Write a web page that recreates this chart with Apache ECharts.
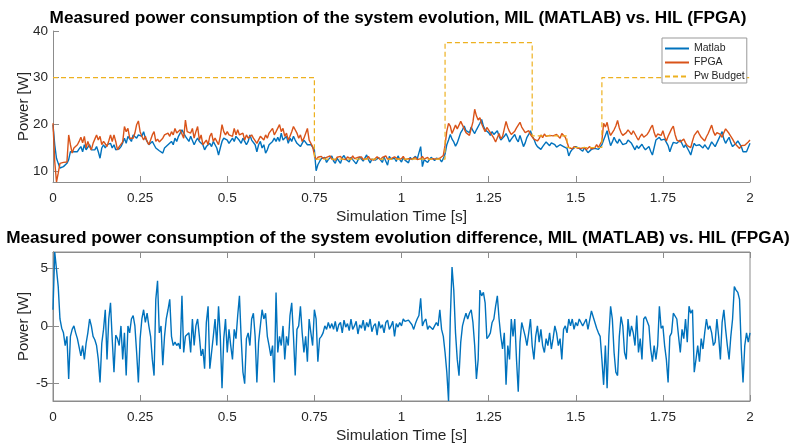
<!DOCTYPE html>
<html>
<head>
<meta charset="utf-8">
<title>Measured power consumption</title>
<script src="https://cdn.jsdelivr.net/npm/echarts@6.0.0/dist/echarts.min.js"></script>
<style>
  html, body { margin: 0; padding: 0; background: #fff; }
  #chart { width: 796px; height: 445px; }
</style>
</head>
<body>
<div id="chart"></div>
<script>
// all traces are sampled every 0.005 s from 0 to 2 s
const timeStep = 0.005

// Matlab (MIL) power
const matlabPower = [
  19.9, 15.6, 12.7, 11.6, 10.6, 10.2, 10.9, 11.3, 11.6, 12.4,
  14.1, 13.8, 14.1, 14.5, 14.1, 14.7, 15.2, 14.1, 15.6, 14.5,
  14.9, 15.6, 14.5, 14.9, 14.5, 15.2, 14.1, 12.7, 14.9, 15.6,
  14.9, 15.6, 15.2, 15.9, 14.9, 15.6, 14.5, 14.1, 14.7, 15.2,
  16.0, 17.0, 15.9, 17.4, 17.0, 16.3, 17.7, 17.4, 17.0, 17.7,
  18.1, 17.4, 18.4, 17.0, 16.3, 15.6, 15.2, 16.3, 15.6, 14.9,
  15.1, 14.3, 14.5, 13.8, 14.9, 15.2, 15.6, 15.9, 16.3, 15.6,
  17.0, 16.3, 17.4, 17.7, 18.8, 18.1, 17.4, 17.0, 16.3, 17.4,
  17.0, 15.6, 16.4, 17.0, 16.3, 15.9, 15.6, 14.5, 15.2, 15.6,
  15.9, 15.2, 16.3, 15.6, 14.9, 13.4, 14.9, 16.3, 17.0, 17.4,
  16.6, 15.9, 16.3, 17.0, 16.3, 17.4, 17.7, 16.5, 15.9, 17.0,
  16.3, 15.6, 16.3, 17.7, 16.6, 16.3, 15.6, 14.1, 15.6, 16.3,
  14.9, 15.6, 13.8, 14.5, 15.6, 15.2, 16.3, 17.0, 16.3, 17.2,
  16.3, 18.1, 16.6, 16.3, 17.4, 15.9, 17.0, 16.3, 17.4, 16.6,
  15.9, 16.3, 15.2, 15.9, 16.6, 16.3, 15.6, 15.2, 15.6, 15.9,
  14.5,
  10.0, 11.3, 12.0, 12.6, 12.2, 12.9, 11.8, 12.4, 12.6, 13.2,
  12.1, 11.6, 12.7, 12.3, 11.6, 12.8, 13.3, 12.5, 12.2, 11.9,
  12.9, 12.4, 12.6, 11.5, 12.3, 13.0, 12.6, 12.1, 12.2, 13.4,
  12.4, 11.7, 12.5, 12.9, 12.3, 12.1, 12.8, 12.4, 11.8, 12.9,
  12.6, 11.2, 13.1, 12.5, 12.3, 12.7, 12.0, 13.2, 12.4, 11.9,
  12.8, 12.3, 12.6, 11.7, 12.9, 12.4, 12.2, 13.1, 12.5, 12.3,
  15.2, 10.9, 12.4, 12.6, 11.8, 12.4, 12.9, 12.6, 12.2, 12.7,
  12.3, 12.5, 11.9, 12.6,
  13.6, 15.6, 16.6, 17.8, 16.8, 16.2, 15.3, 16.0, 17.1, 18.2,
  18.8, 19.6, 18.6, 19.0, 18.2, 19.4, 18.6, 18.0, 18.8, 19.2,
  20.2, 21.0, 19.6, 18.8, 19.2, 18.2, 17.6, 18.4, 17.8, 18.0,
  18.6, 17.4, 16.6, 16.8, 17.4, 18.0, 17.2, 16.2, 16.8, 17.2,
  17.8, 16.8, 16.2, 17.6, 16.4, 15.2, 16.0, 17.2, 17.8, 18.6,
  17.4, 16.8, 15.8, 15.2, 14.8, 14.6, 15.2, 15.6, 16.2, 15.9,
  15.4, 16.0, 15.8, 15.6, 15.1, 15.3, 15.6, 15.9, 15.2, 15.4,
  14.8, 13.2, 14.1, 14.6, 15.0, 15.2,
  15.2, 14.8, 14.4, 14.2, 15.0, 14.6, 13.9, 13.8, 14.6, 14.2,
  14.8, 15.2, 14.6, 15.0, 15.6, 16.6, 17.6, 18.6, 16.8, 15.4,
  16.2, 17.2, 16.4, 15.9, 16.8, 16.4, 15.6, 15.2, 15.9, 16.6,
  16.2, 15.9, 15.2, 14.5, 15.4, 14.8, 15.2, 15.7, 15.0, 14.5,
  14.8, 15.2, 14.2, 13.4, 15.0, 16.6, 17.0, 17.2, 16.6, 16.2,
  16.8, 16.9, 15.4, 14.1, 15.2, 16.1, 16.4, 15.9, 16.2, 16.6,
  15.8, 15.0, 15.6, 15.3, 14.2, 13.4, 14.8, 15.9, 15.4, 15.0,
  15.6, 15.3, 14.9, 15.6, 15.1, 14.6, 15.4, 16.2, 15.8, 15.2,
  16.0, 16.8, 17.6, 18.4, 16.8, 15.9, 16.6, 17.2, 16.0, 15.2,
  15.6, 15.9, 16.4, 16.6, 15.2, 14.1, 14.4, 14.1, 15.0, 15.9
]

// FPGA (HIL) power
const fpgaPower = [
  20.2, 12.0, 7.6, 9.5, 11.6, 11.6, 11.8, 11.6, 11.9, 17.7,
  15.6, 13.8, 14.9, 14.5, 15.6, 16.3, 17.2, 16.0, 17.4, 14.9,
  16.3, 15.2, 14.5, 15.9, 16.8, 17.7, 16.6, 17.4, 15.6, 16.3,
  15.8, 15.2, 16.4, 17.7, 16.3, 17.7, 16.3, 14.5, 15.2, 15.1,
  16.2, 19.5, 18.4, 19.1, 17.0, 17.4, 17.0, 18.1, 19.9, 20.7,
  18.4, 17.4, 16.6, 17.4, 16.3, 15.6, 16.6, 17.7, 18.4, 16.3,
  16.8, 16.2, 16.4, 17.0, 17.7, 17.4, 18.1, 17.4, 18.4, 17.7,
  19.1, 18.1, 17.7, 18.8, 18.4, 17.0, 20.9, 18.4, 18.1, 18.1,
  19.1, 17.0, 18.4, 19.5, 16.6, 17.7, 15.6, 15.9, 16.6, 15.6,
  17.4, 18.1, 16.3, 17.0, 16.3, 15.6, 17.4, 19.9, 18.4, 17.7,
  18.4, 17.7, 18.1, 17.4, 19.1, 17.7, 18.8, 17.7, 17.4, 18.1,
  16.6, 17.7, 17.0, 16.6, 17.7, 17.0, 17.4, 15.9, 16.3, 17.4,
  17.0, 16.6, 17.7, 17.0, 18.1, 18.4, 19.1, 17.7, 18.4, 18.2,
  19.9, 18.4, 19.1, 17.4, 18.1, 16.6, 17.4, 18.4, 19.5, 19.9,
  18.1, 17.0, 17.7, 16.3, 17.0, 17.4, 19.1, 16.6, 16.3, 15.2,
  13.4,
  12.4, 12.9, 12.5, 13.1, 12.6, 12.3, 12.9, 12.7, 13.2, 12.5,
  12.8, 12.3, 12.9, 12.6, 13.1, 12.5, 12.8, 12.4, 13.0, 12.7,
  12.5, 13.2, 12.6, 12.3, 12.9, 12.7, 13.0, 12.4, 12.8, 12.6,
  13.1, 12.5, 12.9, 12.3, 12.7, 13.0, 12.6, 12.4, 12.9, 12.7,
  13.2, 12.5, 12.8, 12.6, 12.4, 13.0, 12.7, 12.5, 12.9, 12.6,
  13.1, 12.4, 12.8, 12.6, 13.0, 12.5, 12.7, 12.9, 12.4, 12.8,
  12.6, 13.1, 12.5, 12.7, 12.9, 12.4, 12.8, 12.6, 13.0, 12.5,
  12.9, 12.7, 12.6, 13.3,
  15.5, 18.5, 20.2, 19.6, 18.0, 18.4, 19.8, 19.0, 18.6, 20.6,
  19.8, 19.4, 18.2, 18.4, 17.6, 18.0, 20.5, 23.2, 21.8, 20.9,
  21.4, 20.1, 19.2, 18.4, 19.3, 18.9, 18.2, 17.6, 17.0, 16.2,
  17.1, 18.0, 16.9, 17.4, 19.0, 20.6, 19.3, 18.4, 17.8, 17.4,
  18.5, 19.2, 19.0, 20.4, 19.4, 18.8, 18.2, 18.0, 18.6, 17.8,
  17.3, 16.8, 17.2, 16.4, 16.9, 17.7, 17.1, 17.9, 17.4, 17.0,
  17.6, 18.0, 17.5, 17.2, 17.8, 17.4, 17.0, 18.0, 17.6, 17.2,
  16.2, 15.0, 15.4, 14.7, 15.2, 15.6,
  14.9, 15.2, 14.8, 14.6, 15.0, 14.5, 14.9, 15.2, 14.7, 14.4,
  15.0, 15.6, 15.0, 15.2, 16.4, 20.2, 19.4, 20.4, 18.6, 17.6,
  18.2, 18.8, 19.6, 20.8, 19.2, 18.2, 17.6, 17.4, 18.2, 18.8,
  18.3, 17.8, 18.6, 18.2, 17.2, 16.6, 17.4, 17.9, 17.2, 16.8,
  17.8, 18.4, 19.2, 19.8, 18.2, 17.2, 17.9, 18.3, 17.6, 18.6,
  17.3, 16.4, 17.4, 18.2, 19.0, 19.6, 17.8, 16.6, 16.9, 16.2,
  16.5, 16.8, 16.0, 15.4, 15.8, 15.0, 16.4, 17.6, 18.0, 18.6,
  17.8, 17.2, 16.9, 16.4, 17.3, 18.0, 18.9, 19.8, 18.4, 17.6,
  18.2, 18.6, 17.8, 17.2, 18.2, 19.0, 18.6, 18.0, 17.4, 16.8,
  16.1, 15.6, 15.2, 14.8, 15.4, 15.2, 15.5, 15.8, 16.2, 16.6
]

// power budget step profile
const budgetTime = [0, 0.75, 0.75, 1.125, 1.125, 1.375, 1.375, 1.475, 1.475, 1.575, 1.575, 2]
const budgetValue = [30, 30, 12.5, 12.5, 37.5, 37.5, 17.5, 17.5, 15, 15, 30, 30]

// difference Matlab - FPGA
const diffPower = [
  1.4, 6.4, 6.3, 3.4, 0.6, -0.2, -0.6, -1.7, -0.9, -4.6,
  -0.9, -0.3, 0.0, -0.6, -1.1, -1.2, -2.6, -1.7, -2.9, -1.5,
  -0.6, 0.6, 0.0, -0.9, -1.2, -1.7, -2.9, -4.9, -1.5, -0.3,
  1.4, -2.9, 0.6, 2.0, -1.2, -4.0, -0.8, -1.1, -1.7, 0.0,
  -2.9, -0.6, -4.3, 0.0, -0.6, 0.6, 0.9, 0.0, -2.3, -4.9,
  -1.1, 0.6, 1.4, 0.3, 1.1, 0.0, -0.9, -2.9, -4.3, 2.3,
  3.9, -0.6, 0.0, -3.4, -0.9, 0.6, 1.4, 2.3, -0.9, -1.7,
  -1.4, -1.7, -1.5, -2.0, 2.6, -2.3, -0.9, -0.8, -0.6, -2.3,
  0.6, -1.7, 0.0, 0.6, -0.9, -2.6, -2.0, -3.7, 0.3, 1.7,
  -3.7, -2.3, -0.9, 0.6, -1.7, 1.7, -0.9, -5.4, -1.1, 0.6,
  -2.3, -0.3, -1.7, -2.9, -0.3, -1.1, 0.9, 2.6, -1.1, -4.0,
  -5.0, -1.1, -0.6, -1.7, 0.6, 1.1, -0.9, -4.9, -1.4, 0.0,
  1.4, 0.6, 1.1, -0.9, -1.7, -2.6, -1.7, -4.9, 2.9, -2.3,
  -0.9, -1.7, 0.0, -2.9, -0.9, -1.7, 0.9, 2.0, -0.9, -4.3,
  -0.3, 0.0, 1.7, -0.6, -2.3, -0.9, -3.1, 0.6, -0.6, -1.7,
  1.4, 0.6, -3.1, -1.1, -0.9, -0.6, 0.0, -0.3, 0.3, -0.2,
  0.2, -0.3, 0.4, -0.5, 0.1, 0.3, -0.6, 0.5, -0.1, 0.2,
  -0.4, 0.6, -0.3, 0.0, 0.4, -0.7, 0.1, -0.2, 0.5, -0.4,
  0.3, -0.1, 0.6, -0.5, 0.0, 0.2, -0.8, 0.4, -0.2, 0.1,
  -0.6, 0.3, 0.5, -0.3, 0.0, 0.4, -0.9, 0.2, -0.1, 0.3,
  0.0, 0.6, 0.4, 0.3, 0.5, 0.6, 0.1, -0.3, 0.2, 0.6,
  0.9, 2.4, 0.0, 0.4, 0.6, -0.3, 0.0, -0.1, -0.3, 0.0,
  0.3, 0.0, 1.4, -0.3, -0.9, -2.3, -4.0, -6.5, 0.6, 5.1,
  3.1, -0.6, -2.9, -4.3, -1.4, 0.0, 0.6, 1.1, 0.6, 1.1,
  1.4, 0.3, -1.7, -4.6, -2.9, 3.1, 2.6, 2.9, 2.0, -1.1,
  -0.9, -0.6, 0.3, 0.6, 1.7, 2.6, 0.6, -0.9, -2.0, -0.6,
  -5.1, -1.7, -2.9, 0.6, -0.9, 0.6, -2.9, -5.7, -1.4, 0.3,
  -0.3, -0.9, -1.7, -0.6, 0.6, -1.7, -2.9, -0.9, 0.0, -1.4,
  -0.3, -1.7, -2.3, -1.1, -1.7, -0.6, -2.0, -1.1, 0.0, -0.6,
  -1.7, -1.1, -2.9, -0.3, 0.0, -0.6, 0.6, 0.0, 0.6, -0.3,
  0.3, 0.0, 0.6, 0.3, 0.0, 0.3, 0.6, -0.3, -0.3, 1.3,
  0.8, 0.3, -0.2, -0.6, -0.9, -2.9, -5.1, -1.7, -5.4, -0.9,
  1.7, 0.6, -2.3, -4.0, -4.3, -0.9, 0.8, 0.0, -2.3, -2.9,
  0.6, -0.9, 0.0, -0.6, -1.7, 0.9, -2.3, -1.1, -2.9, 0.6,
  0.8, 0.9, 0.0, -2.0, -3.1, -1.7, -2.9, -1.7, 1.7, -0.2,
  0.0, -1.7, -2.9, -4.9, -0.9, -0.6, 1.1, 1.1, 0.6, -0.9,
  -2.3, -0.3, -1.1, 0.6, -1.4, 1.7, 1.1, 1.4, -4.0, -2.9,
  -1.7, -3.1, -1.1, -2.0, -0.6, 0.6, -0.3, 0.0, -0.6, -1.7,
  -1.4, 0.6, -0.9, -2.9, 0.3, 1.4, -0.3, -1.7, -2.9, -0.9,
  0.6, 3.4, 3.1, 2.9, 2.3, -2.0, -4.9, -1.7, -0.6, -1.4,
  -0.6
]

const topTicks = [10, 20, 30, 40]
const diffTicks = [-5, 0, 5]

const toPairs = (values) => values.map((v, i) => [+(i * timeStep).toFixed(3), v])

const font = 'Liberation Sans, Arial, sans-serif'
const axisGrey = '#8c8c8c'
const textGrey = '#262626'

const timeAxis = (gridIndex, extra) => Object.assign({
  type: 'value',
  gridIndex: gridIndex,
  min: 0,
  max: 2,
  interval: 0.25,
  name: 'Simulation Time [s]',
  nameLocation: 'middle',
  nameGap: 27,
  nameMoveOverlap: false,
  nameTextStyle: { fontFamily: font, fontSize: 15.5, color: textGrey },
  axisLine: { onZero: false, lineStyle: { color: axisGrey, width: 1 } },
  axisTick: { inside: true, length: 6, lineStyle: { color: axisGrey } },
  axisLabel: { fontFamily: font, fontSize: 13.5, color: textGrey, margin: 9 },
  splitLine: { show: false }
}, extra)

const powerAxis = (gridIndex, min, max, ticks) => ({
  type: 'value',
  gridIndex: gridIndex,
  min: min,
  max: max,
  name: 'Power [W]',
  nameLocation: 'middle',
  nameGap: 22,
  nameMoveOverlap: false,
  nameTextStyle: { fontFamily: font, fontSize: 15, color: textGrey },
  axisLine: { show: true, lineStyle: { color: axisGrey, width: 1 } },
  axisTick: { show: true, inside: true, length: 6, customValues: ticks, lineStyle: { color: axisGrey } },
  axisLabel: { fontFamily: font, fontSize: 13.5, color: textGrey, margin: 5, customValues: ticks },
  splitLine: { show: false }
})

const chart = echarts.init(document.getElementById('chart'))

chart.setOption({
  animation: false,
  backgroundColor: '#fff',
  title: [
    {
      text: 'Measured power consumption of the system evolution, MIL (MATLAB) vs. HIL (FPGA)',
      left: 'center',
      top: 10,
      padding: 0,
      textStyle: { fontFamily: font, fontSize: 17.2, fontWeight: 'bold', color: '#000' }
    },
    {
      text: 'Measured power consumption of the system evolution difference, MIL (MATLAB) vs. HIL (FPGA)',
      left: 'center',
      top: 230,
      padding: 0,
      textStyle: { fontFamily: font, fontSize: 17.2, fontWeight: 'bold', color: '#000' }
    }
  ],
  legend: {
    data: ['Matlab', 'FPGA', 'Pw Budget'],
    orient: 'vertical',
    left: 662,
    top: 38,
    padding: [5, 2, 1, 2],
    itemWidth: 24,
    itemHeight: 12,
    itemGap: 3,
    // line only, no marker in the middle
    itemStyle: { opacity: 0 },
    backgroundColor: '#fff',
    borderColor: '#999',
    borderWidth: 1,
    borderRadius: 0,
    textStyle: { fontFamily: font, fontSize: 10.5, color: textGrey }
  },
  grid: [
    { left: 53, right: 46, top: 31, height: 151, show: false },
    { left: 53, right: 46, top: 252, height: 150, show: true, borderColor: axisGrey, borderWidth: 1 }
  ],
  xAxis: [
    timeAxis(0),
    timeAxis(1),
    // top edge ticks of the lower box
    timeAxis(1, { position: 'top', name: '', axisLabel: { show: false } })
  ],
  yAxis: [
    powerAxis(0, 7.6, 40, topTicks),
    powerAxis(1, -6.5, 6.4, diffTicks),
    // right edge ticks of the lower box
    Object.assign(powerAxis(1, -6.5, 6.4, diffTicks), { position: 'right', name: '', axisLabel: { show: false } })
  ],
  series: [
    {
      name: 'Matlab',
      type: 'line',
      xAxisIndex: 0,
      yAxisIndex: 0,
      symbol: 'none',
      lineStyle: { color: '#0072BD', width: 1.4 },
      itemStyle: { color: '#0072BD' },
      data: toPairs(matlabPower)
    },
    {
      name: 'FPGA',
      type: 'line',
      xAxisIndex: 0,
      yAxisIndex: 0,
      symbol: 'none',
      lineStyle: { color: '#D95319', width: 1.4 },
      itemStyle: { color: '#D95319' },
      data: toPairs(fpgaPower)
    },
    {
      name: 'Pw Budget',
      type: 'line',
      xAxisIndex: 0,
      yAxisIndex: 0,
      symbol: 'none',
      lineStyle: { color: '#EDB120', width: 1.2, type: [5, 3] },
      itemStyle: { color: '#EDB120' },
      data: budgetTime.map((t, i) => [t, budgetValue[i]])
    },
    {
      name: 'Difference',
      type: 'line',
      xAxisIndex: 1,
      yAxisIndex: 1,
      symbol: 'none',
      lineStyle: { color: '#0072BD', width: 1.4 },
      itemStyle: { color: '#0072BD' },
      data: toPairs(diffPower)
    }
  ]
})

window.addEventListener('resize', () => chart.resize())
</script>
</body>
</html>
